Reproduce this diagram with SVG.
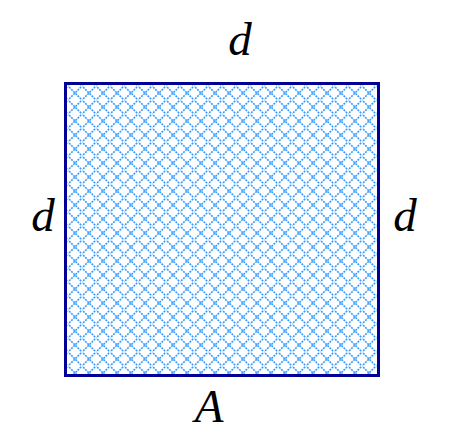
<svg xmlns="http://www.w3.org/2000/svg" width="452" height="432" viewBox="0 0 452 432">
<style>
.lbl{font-family:"Liberation Serif","Times New Roman",serif;font-style:italic;font-size:47px;fill:#000;text-anchor:middle}
.hatch{stroke:#3399ff;stroke-width:1.6;stroke-dasharray:2 1;fill:none}
</style>
<defs>
<pattern id="xh" patternUnits="userSpaceOnUse" x="68" y="86" width="14" height="14">
<path class="hatch" d="M-1,-1L15,15M-1,15L15,-1"/>
</pattern>
</defs>
<g id="square">
<rect x="65.5" y="83.5" width="313" height="292" fill="url(#xh)" stroke="#000099" stroke-width="3"/>
</g>
<g id="labels">
<text class="lbl" x="240" y="55">d</text>
<text class="lbl" x="43" y="231">d</text>
<text class="lbl" x="405" y="231">d</text>
<text class="lbl" x="209" y="422">A</text>
</g>
</svg>
